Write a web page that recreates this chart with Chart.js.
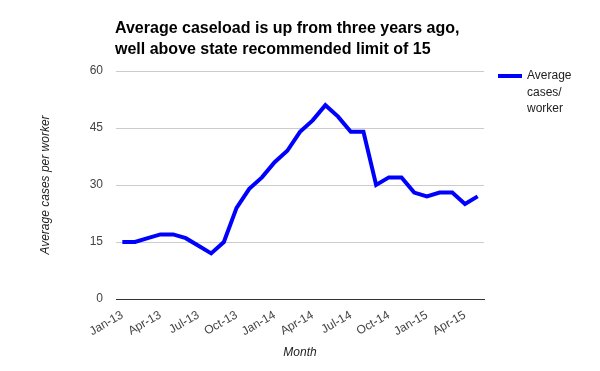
<!DOCTYPE html>
<html>
<head>
<meta charset="utf-8">
<script src="https://cdn.jsdelivr.net/npm/chart.js@4"></script>
<style>
  html, body { margin: 0; padding: 0; background: #fff; }
  #wrap { width: 600px; height: 371px; }
</style>
</head>
<body>
<div id="wrap"><canvas id="caseload-chart"></canvas></div>
<script>
const months = [
    'Jan-13', 'Feb-13', 'Mar-13', 'Apr-13', 'May-13', 'Jun-13', 'Jul-13', 'Aug-13', 'Sep-13', 'Oct-13', 'Nov-13', 'Dec-13',
    'Jan-14', 'Feb-14', 'Mar-14', 'Apr-14', 'May-14', 'Jun-14', 'Jul-14', 'Aug-14', 'Sep-14', 'Oct-14', 'Nov-14', 'Dec-14',
    'Jan-15', 'Feb-15', 'Mar-15', 'Apr-15', 'May-15'
];
const avgCases = [
    15, 15, 16, 17, 17, 16, 14, 12, 15, 24, 29, 32,
    36, 39, 44, 47, 51, 48, 44, 44, 30, 32, 32, 28,
    27, 28, 28, 25, 27
];
const yTicks = [0, 15, 30, 45, 60];
const titleLines = [
    'Average caseload is up from three years ago,',
    'well above state recommended limit of 15'
];
const seriesLabel = 'Average cases/ worker';

const FONT = "'Liberation Sans', Arial, sans-serif";

// title + wrapped legend, Google Charts style
const decor = {
    id: 'decor',
    afterDraw(chart) {
        const ctx = chart.ctx;
        const area = chart.chartArea;
        ctx.save();
        ctx.fillStyle = '#000';
        ctx.font = 'bold 16px ' + FONT;
        ctx.textBaseline = 'alphabetic';
        ctx.textAlign = 'left';
        titleLines.forEach((line, i) => ctx.fillText(line, area.left - 1, 33 + i * 21));

        const ds = chart.data.datasets[0];
        ctx.strokeStyle = ds.borderColor;
        ctx.lineWidth = 4;
        ctx.beginPath();
        ctx.moveTo(498, 76);
        ctx.lineTo(522, 76);
        ctx.stroke();
        ctx.fillStyle = '#222';
        ctx.font = '12px ' + FONT;
        ctx.textBaseline = 'middle';
        ds.label.split(' ').forEach((word, i) => ctx.fillText(word, 527, 76 + i * 16.5));
        ctx.restore();
    }
};

new Chart(document.getElementById('caseload-chart'), {
    type: 'line',
    data: {
        labels: months,
        datasets: [{
            label: seriesLabel,
            data: avgCases,
            borderColor: '#0000ff',
            backgroundColor: '#0000ff',
            borderWidth: 4,
            pointRadius: 0,
            tension: 0
        }]
    },
    options: {
        responsive: true,
        maintainAspectRatio: false,
        animation: false,
        layout: {
            padding: { top: 71, right: 116, bottom: 0, left: 0 }
        },
        plugins: {
            legend: { display: false },
            title: { display: false },
            tooltip: { enabled: false }
        },
        scales: {
            x: {
                offset: true,
                afterFit(scale) { scale.height = 72; },
                grid: { display: false, drawTicks: false },
                border: { color: '#333', width: 1 },
                ticks: {
                    autoSkip: false,
                    minRotation: 30,
                    maxRotation: 30,
                    padding: 9,
                    color: '#444',
                    font: { family: FONT, size: 12 },
                    callback(value, index) {
                        return index % 3 === 0 ? months[index] : null;
                    }
                },
                title: {
                    display: true,
                    text: 'Month',
                    color: '#222',
                    font: { family: FONT, size: 12, style: 'italic' },
                    padding: { top: 0, bottom: 11 }
                }
            },
            y: {
                min: 0,
                max: 60,
                afterFit(scale) { scale.width = 116; },
                afterBuildTicks(scale) {
                    scale.ticks = yTicks.map(v => ({ value: v }));
                },
                grid: {
                    color: ctx => ctx.tick && ctx.tick.value === 0 ? '#333' : '#ccc',
                    drawTicks: false
                },
                border: { display: false },
                ticks: {
                    padding: 13,
                    color: '#444',
                    font: { family: FONT, size: 12 }
                },
                title: {
                    display: true,
                    text: 'Average cases per worker',
                    color: '#222',
                    font: { family: FONT, size: 12, style: 'italic' },
                    padding: { top: 38, bottom: 0 }
                }
            }
        }
    },
    plugins: [decor]
});
</script>
</body>
</html>
